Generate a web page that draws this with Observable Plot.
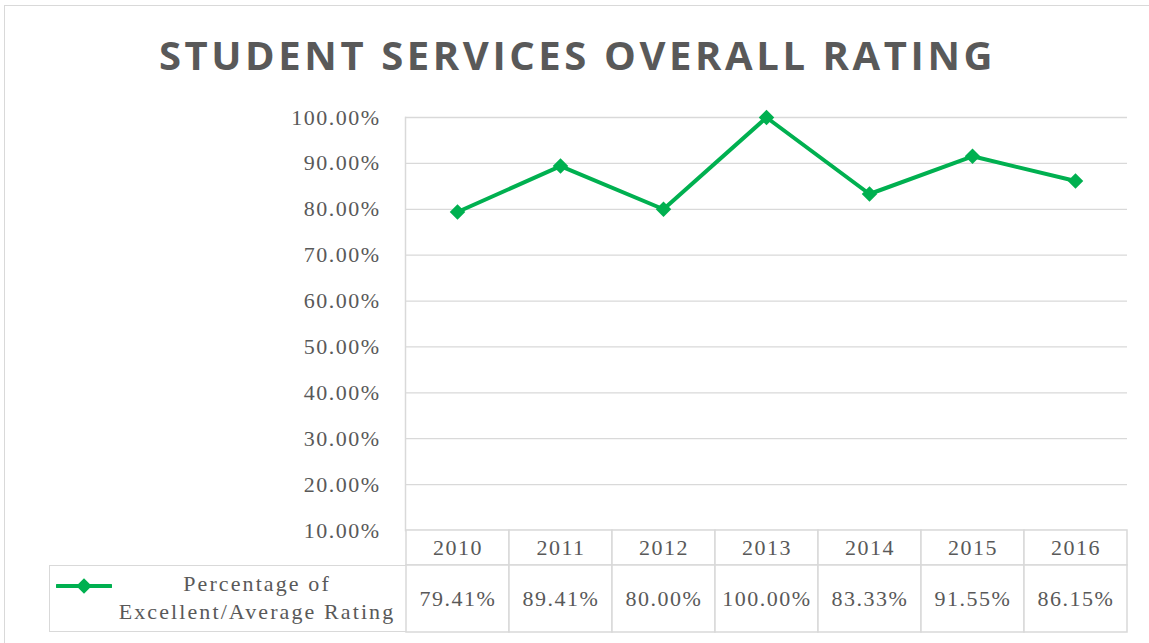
<!DOCTYPE html>
<html>
<head>
<meta charset="utf-8">
<script src="https://cdn.jsdelivr.net/npm/d3@7"></script>
<script src="https://cdn.jsdelivr.net/npm/@observablehq/plot@0.6"></script>
<style>
  html, body { margin: 0; padding: 0; background: #fff; }
  #chart { position: relative; width: 1149px; height: 643px; overflow: hidden; }
  #frame { position: absolute; left: 4px; top: 5px; width: 1160px; height: 660px; border: 1.5px solid #d9d9d9; box-sizing: border-box; }
  #title { position: absolute; left: 0; top: 27px; width: 1155px; text-align: center;
    font-family: "Open Sans", sans-serif; font-weight: 700; font-size: 40px; letter-spacing: 3.6px; color: #595959; }
  .layer { position: absolute; left: 0; }
  #legend { position: absolute; left: 49px; top: 565px; width: 357px; height: 67px; border: 1.5px solid #d9d9d9; box-sizing: border-box; border-right: none;
    font-family: "Liberation Serif", serif; font-size: 22px; letter-spacing: 2.1px; color: #595959; }
  #legend svg { position: absolute; left: 6px; top: 10px; }
  #legend .txt { position: absolute; left: 62px; right: 4px; top: 4px; text-align: center; line-height: 28px; white-space: nowrap; }
</style>
</head>
<body>
<div id="chart">
  <div id="frame"></div>
  <div id="title"></div>
  <div id="main" class="layer" style="top:0"></div>
  <div id="years" class="layer" style="top:529px"></div>
  <div id="vals" class="layer" style="top:564px"></div>
  <div id="legend"><svg width="56" height="20"></svg><div class="txt"></div></div>
</div>
<script>
const title = "STUDENT SERVICES OVERALL RATING";
const years = ["2010", "2011", "2012", "2013", "2014", "2015", "2016"];
const values = [0.7941, 0.8941, 0.8000, 1.0000, 0.8333, 0.9155, 0.8615];
const seriesName = "Percentage of Excellent/Average Rating";
const yTicks = [0.1, 0.2, 0.3, 0.4, 0.5, 0.6, 0.7, 0.8, 0.9, 1.0];

const green = "#00b050";
const grid = "#d9d9d9";
const textColor = "#595959";
const font = "Liberation Serif, serif";

const data = years.map((y, i) => ({year: y, value: values[i]}));

document.getElementById("title").textContent = title;

const W = 1149, L = 405, R = 22;

const main = Plot.plot({
  width: W, height: 546,
  marginTop: 117, marginBottom: 16, marginLeft: L, marginRight: R,
  style: {fontFamily: font, fontSize: "22px", color: textColor, background: "transparent", letterSpacing: "1.5px"},
  x: {type: "point", domain: years, padding: 0.5, axis: null},
  y: {domain: [0.1, 1.0], ticks: yTicks, tickFormat: d3.format(".2%"), tickSize: 0, tickPadding: 25, label: null},
  marks: [
    Plot.ruleY(yTicks, {stroke: grid, strokeWidth: 1.3, strokeOpacity: 1}),
    Plot.frame({anchor: "left", stroke: grid, strokeWidth: 1.5, strokeOpacity: 1}),
    Plot.line(data, {x: "year", y: "value", stroke: green, strokeWidth: 4}),
    Plot.dot(data, {x: "year", y: "value", symbol: "diamond2", r: 7, fill: green, stroke: "none"})
  ]
});
document.getElementById("main").append(main);

function rowPlot(h, textFn) {
  return Plot.plot({
    width: W, height: h,
    marginTop: 1, marginBottom: 1, marginLeft: L, marginRight: R,
    style: {fontFamily: font, fontSize: "22px", color: textColor, background: "transparent", letterSpacing: "1.5px"},
    x: {type: "band", domain: years, padding: 0, axis: null},
    marks: [
      Plot.cell(data, {x: "year", fill: "white", stroke: grid, strokeWidth: 1.5, inset: 0}),
      Plot.text(data, {x: "year", text: textFn, fill: textColor, fontSize: 22, frameAnchor: "middle"})
    ]
  });
}
document.getElementById("years").append(rowPlot(37, d => d.year));
document.getElementById("vals").append(rowPlot(69, d => d3.format(".2%")(d.value)));

// legend
const lg = d3.select("#legend svg");
lg.append("line").attr("x1", 1).attr("x2", 55).attr("y1", 10).attr("y2", 10)
  .attr("stroke", green).attr("stroke-width", 4).attr("stroke-linecap", "round");
lg.append("path").attr("d", d3.symbol(d3.symbolDiamond2, Math.PI * 49)()).attr("transform", "translate(28,10)").attr("fill", green);
const parts = seriesName.split(" ");
document.querySelector("#legend .txt").innerHTML = parts.slice(0, 2).join(" ") + "<br>" + parts.slice(2).join(" ");
</script>
</body>
</html>
